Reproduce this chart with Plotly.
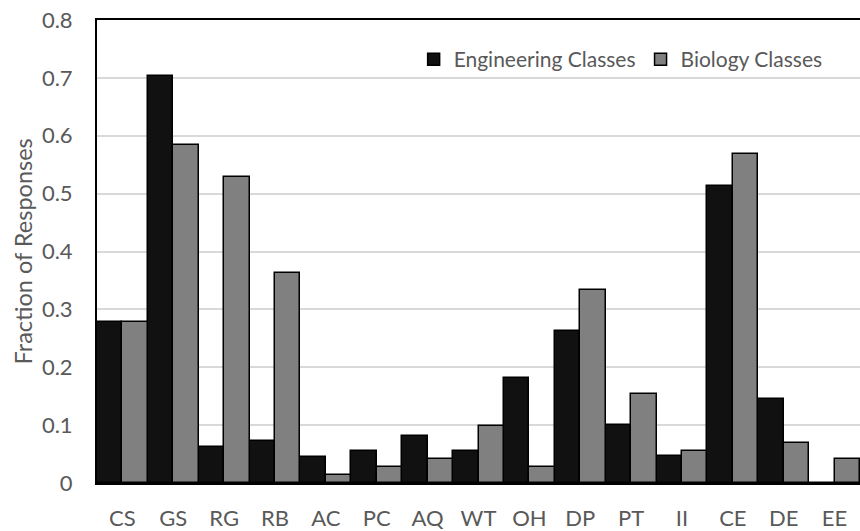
import plotly.graph_objects as go

categories = ["CS", "GS", "RG", "RB", "AC", "PC", "AQ", "WT", "OH", "DP", "PT", "II", "CE", "DE", "EE"]
engineering = [0.279, 0.704, 0.063, 0.073, 0.045, 0.055, 0.082, 0.055, 0.181, 0.262, 0.100, 0.046, 0.514, 0.145, 0.0]
biology = [0.278, 0.584, 0.528, 0.362, 0.013, 0.027, 0.042, 0.098, 0.027, 0.333, 0.153, 0.055, 0.568, 0.069, 0.041]
y_ticks = [0, 0.1, 0.2, 0.3, 0.4, 0.5, 0.6, 0.7, 0.8]
y_tick_labels = ["0", "0.1", "0.2", "0.3", "0.4", "0.5", "0.6", "0.7", "0.8"]
y_title = "Fraction of Responses"

FONT = "Lato"
TXT = "#595959"
FS = 22

fig = go.Figure()
fig.add_trace(go.Bar(
    x=categories, y=engineering, name="Engineering Classes",
    marker=dict(color="#111111", line=dict(color="black", width=1.5)),
))
fig.add_trace(go.Bar(
    x=categories, y=biology, name="Biology Classes",
    marker=dict(color="#808080", line=dict(color="black", width=1.5)),
))

fig.update_layout(
    width=860, height=531,
    margin=dict(l=97, r=0, t=20, b=48),
    paper_bgcolor="white", plot_bgcolor="white",
    barmode="group", bargap=0, bargroupgap=0,
    font=dict(family=FONT, size=FS, color=TXT),
    legend=dict(
        orientation="h", x=0.415, y=0.959, xanchor="left", yanchor="top",
        font=dict(family=FONT, size=21, color=TXT),
        bgcolor="rgba(255,255,255,0)", itemwidth=30, tracegroupgap=0,
    ),
    xaxis=dict(
        showline=True, linecolor="black", linewidth=2, mirror=True,
        ticks="", tickfont=dict(size=FS, color=TXT), showgrid=False,
        ticklabelstandoff=15, automargin=False, ticklabeloverflow="allow",
    ),
    yaxis=dict(
        range=[0, 0.8], tickvals=y_ticks, ticktext=y_tick_labels,
        showline=True, linecolor="black", linewidth=2, mirror=True,
        showgrid=True, gridcolor="#d9d9d9", gridwidth=1.5,
        zeroline=False, ticks="", tickfont=dict(size=FS, color=TXT),
        ticklabelstandoff=18, automargin=False, ticklabeloverflow="allow",
    ),
    annotations=[dict(
        text=y_title, xref="paper", yref="paper", x=-0.0970, y=0.5,
        xanchor="center", yanchor="middle", textangle=-90, showarrow=False,
        font=dict(family=FONT, size=23.5, color=TXT),
    )],
)

# remove the default 8px page margin so the figure fills the window exactly
fig.write_html(
    "out.html",
    config={"displayModeBar": False},
    post_script="document.body.style.margin='0';",
)
